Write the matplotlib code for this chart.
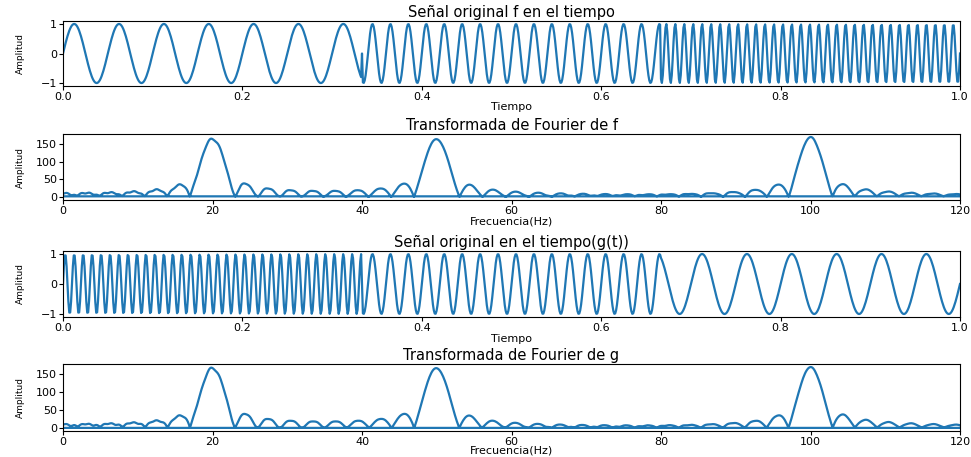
import numpy as np
import matplotlib
matplotlib.use("Agg")
import matplotlib.pyplot as plt

# ---- data ----
n_samples = 1000                      # samples over one second
n_fft = 8192                          # FFT length (zero padded)
segment_bounds = [0.0, 1/3, 2/3, 1.0]  # seconds
freqs_f = [20, 50, 100]               # Hz, per segment, signal f
freqs_g = [100, 50, 20]               # Hz, per segment, signal g
time_ticks = [0.0, 0.2, 0.4, 0.6, 0.8, 1.0]
amp_ticks = [-1, 0, 1]
freq_ticks = [0, 20, 40, 60, 80, 100, 120]
fft_ticks = [0, 50, 100, 150]
titles = ["Señal original f en el tiempo", "Transformada de Fourier de f",
          "Señal original en el tiempo(g(t))", "Transformada de Fourier de g"]

t = np.linspace(0, 1, n_samples)


def build(freqs):
    y = np.zeros_like(t)
    seg = np.searchsorted(segment_bounds[1:-1], t, side="right")
    for i, fr in enumerate(freqs):
        m = seg == i
        y[m] = np.sin(2 * np.pi * fr * t[m])
    y[np.isclose(t, segment_bounds[1])] = 0.0
    return y


f = build(freqs_f)
g = build(freqs_g)
freq = np.fft.fftfreq(n_fft, t[1] - t[0])
F = np.abs(np.fft.fft(f, n_fft))
G = np.abs(np.fft.fft(g, n_fft))

W, H = 971, 457
fig = plt.figure(figsize=(W / 100, H / 100), dpi=100)
left, right = 63 / W, 960 / W
rows = [(21, 86), (134, 200), (251, 317), (364, 431)]
axes = []
for top, bot in rows:
    axes.append(fig.add_axes([left, 1 - bot / H, right - left, (bot - top) / H]))

color = "#1f77b4"
ax1, ax2, ax3, ax4 = axes
ax1.plot(t, f, color=color, lw=1.6)
ax2.plot(freq, F, color=color, lw=1.6)
ax3.plot(t, g, color=color, lw=1.6)
ax4.plot(freq, G, color=color, lw=1.6)

for ax in (ax1, ax3):
    ax.set_xlim(0, 1)
    ax.set_xticks(time_ticks)
    ax.set_yticks(amp_ticks)
    ax.set_xlabel("Tiempo", fontsize=8, va="center")
for ax in (ax2, ax4):
    ax.set_xlim(0, 120)
    ax.set_xticks(freq_ticks)
    ax.set_yticks(fft_ticks)
    ax.set_xlabel("Frecuencia(Hz)", fontsize=8, va="center")

for ax, title in zip(axes, titles):
    ax.set_title(title, fontsize=10.5, pad=3)
    ax.set_ylabel("Amplitud", fontsize=6.5)
    ax.yaxis.set_label_coords(-0.042, 0.5)
    ax.xaxis.set_label_coords(0.5, -0.33)
    ax.tick_params(labelsize=8, length=3, pad=1.2)
ax4.xaxis.set_label_coords(0.5, -0.29)

fig.savefig("out.png", dpi=100)
